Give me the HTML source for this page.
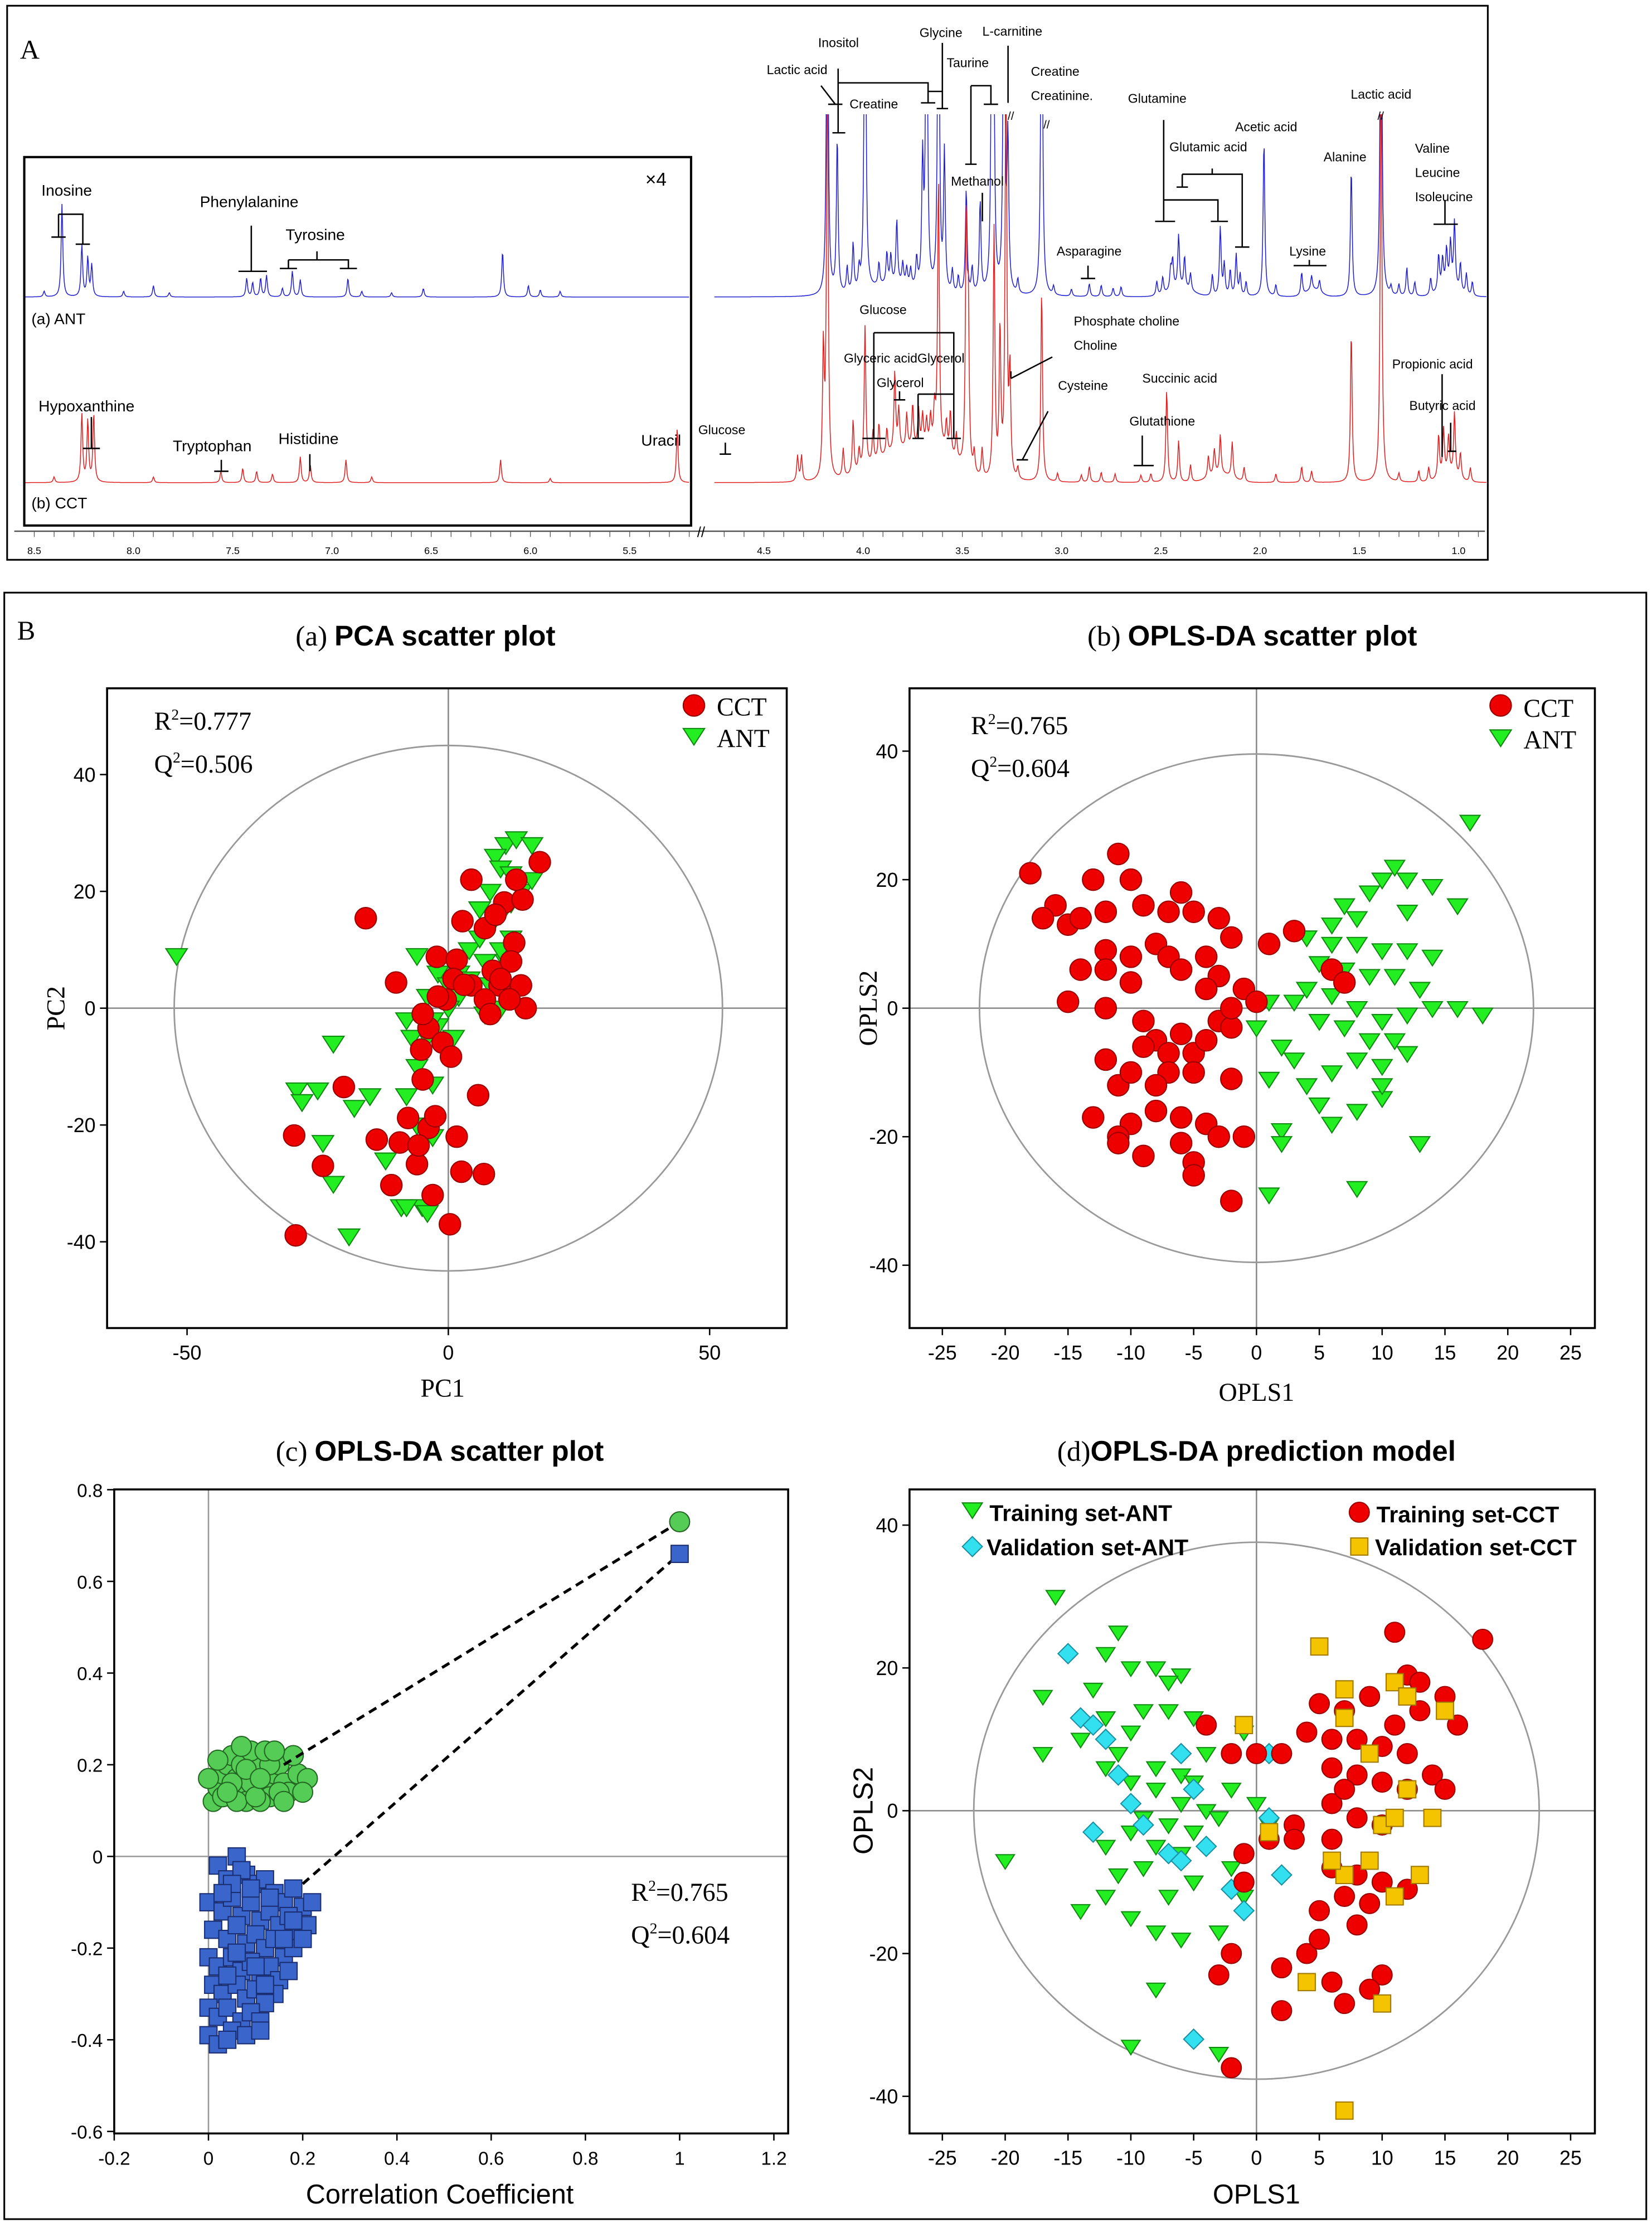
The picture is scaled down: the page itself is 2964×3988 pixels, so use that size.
<!DOCTYPE html>
<html><head><meta charset="utf-8"><style>
html,body{margin:0;padding:0;background:#fff;}
svg{display:block;}
.ser{font-family:"Liberation Serif",serif;}
.san{font-family:"Liberation Sans","DejaVu Sans",sans-serif;}
</style></head><body>
<svg id="fig" xmlns="http://www.w3.org/2000/svg" width="2964" height="3988" viewBox="0 0 1157 1556.7">
<rect x="0" y="0" width="1157" height="1557" fill="#fff"/>
<defs>
<clipPath id="clipA"><rect x="6" y="80" width="1035" height="300"/></clipPath>
</defs>
<g id="panelA"></g>
<g id="panelB"></g>
</svg>
<script>
// ---------- Panel A spectra data: [ppm, peak height (px units)] ----------
const blueRight=[[4.18,300],[4.13,110],[3.99,300],[4.05,34],[3.83,45],[3.70,87],[3.68,300],[3.62,300],[3.59,97],[3.48,74],[3.41,65],[3.35,300],[3.34,97],[3.29,300],[3.27,105],[3.10,300],[2.86,9],[2.41,37],[2.20,48],[2.12,29],[1.98,110],[1.79,16],[1.54,90],[1.39,300],[1.26,20],[1.02,46],[1.10,25],[0.96,15],[3.86,20],[3.78,12],[2.45,15],[2.15,18],[1.06,25],[1.08,20],[4.08,18],[4.02,14],[3.92,16],[3.88,22],[3.80,15],[3.76,12],[3.73,20],[3.55,16],[3.52,12],[3.45,18],[3.22,10],[3.04,6],[2.95,5],[2.80,8],[2.74,6],[2.70,7],[2.52,10],[2.49,12],[2.44,20],[2.38,22],[2.35,12],[2.24,15],[2.18,22],[2.10,15],[2.07,10],[1.92,8],[1.74,10],[1.70,8],[1.34,6],[1.30,8],[1.22,10],[1.14,12],[1.04,30],[0.99,20],[0.93,10]];
const redRight=[[4.18,300],[4.20,89],[3.99,100],[3.84,55],[4.05,38],[3.62,189],[3.48,173],[3.47,108],[3.34,175],[3.31,103],[3.28,300],[3.26,72],[3.10,135],[2.86,11],[2.47,65],[2.41,29],[2.20,27],[2.14,25],[1.79,11],[1.54,106],[1.39,300],[1.10,30],[1.02,44],[1.075,32],[4.31,18],[4.33,18],[3.92,25],[3.75,30],[3.70,22],[3.56,30],[3.66,20],[4.10,20],[4.02,15],[3.95,22],[3.88,18],[3.82,28],[3.78,24],[3.72,26],[3.68,18],[3.64,25],[3.58,20],[3.53,18],[3.44,15],[3.40,20],[3.22,8],[3.02,6],[2.90,5],[2.80,7],[2.73,6],[2.60,5],[2.55,6],[2.35,12],[2.26,15],[2.23,18],[2.08,10],[1.92,6],[1.74,8],[1.30,6],[1.20,8],[1.15,10],[1.05,26],[0.99,18],[0.94,10]];
const redHumps=[[3.80,22,0.2],[3.60,14,0.12],[2.20,6,0.08],[1.05,6,0.06]];
const blueHumps=[[3.85,8,0.15],[2.40,6,0.08],[1.05,8,0.06],[1.73,5,0.05]];
const blueLeft=[[8.36,65],[8.26,36],[8.23,27],[8.21,22],[7.43,13],[7.36,13],[7.20,18],[6.92,13],[6.54,6],[6.14,32],[6.01,8],[7.90,8],[7.40,10],[7.33,15],[7.16,12],[8.45,4],[8.05,4],[7.82,3],[7.25,6],[6.85,4],[6.70,3],[5.95,5],[5.85,4]];
const redLeft=[[8.26,48],[8.23,43],[8.20,48],[6.15,16],[5.26,38],[7.16,18],[6.93,16],[7.56,8],[7.11,13],[7.45,10],[7.38,8],[8.40,4],[7.90,4],[7.30,6],[6.80,4],[5.90,3]];
const ppmTicksLeft=[8.5,8.0,7.5,7.0,6.5,6.0,5.5];
const ppmTicksRight=[4.5,4.0,3.5,3.0,2.5,2.0,1.5,1.0];

// ---------- Panel B(a) PCA ----------
const pcaCCT=[[-15.8,15.4],[17.5,25],[4.4,22],[-10,4.4],[-2.2,8.8],[1.6,8.3],[7,13.7],[12.6,11.2],[13.9,3.9],[14.8,0],[9.8,3.9],[4.4,3.9],[-3.8,-3.4],[-1.1,-5.9],[0.5,-8.3],[-4.9,-12.2],[-7.7,-18.8],[-3.8,-20.5],[-9.3,-23],[-13.7,-22.5],[-20,-13.5],[-29.5,-21.8],[-24,-27],[-29.2,-38.9],[-10.9,-30.3],[-6,-26.7],[-3,-32],[0.3,-37],[1.6,-22],[5.7,-14.9],[2.5,-28],[6.8,-28.4],[-5.7,-23.5],[-2.5,-18.5],[2.7,14.9],[10.7,18.1],[14.2,18.6],[8.5,6.4],[11.7,1.5],[7,1.5],[-0.5,1.5],[-4.9,-1],[-5.2,-7.1],[12,8],[10,5],[13,22],[9,16],[8,-1],[1,5],[3,4],[-2,2]];
const pcaANT=[[-52,9],[-22,-6],[-25,-14],[-29,-14],[-28,-16],[-24,-23],[-18,-17],[-22,-30],[-19,-39],[-12,-26],[-9,-34],[-5,-34],[-8,-34],[-4,-35],[-6,-20],[-15,-15],[-8,-15],[-3,-13],[-6,-10],[-8,-2],[-4,-5],[-2,-3],[-4,2],[-6,9],[-2,6],[0,4],[2,6],[4,10],[6,12],[8,14],[10,16],[12,18],[14,20],[16,22],[11,28],[13,29],[16,28],[9,26],[10,24],[12,23],[8,20],[6,17],[7,8],[9,6],[11,8],[12,12],[10,10],[8,4],[10,0],[7,-1],[4,5],[2,2],[0,0],[-3,-2],[1,-5],[-7,-5],[-6,-24],[-3,-22]];
const pcaXTicks=[-50,0,50];
const pcaYTicks=[40,20,0,-20,-40];

// ---------- Panel B(b) OPLS-DA ----------
const oplsCCT=[[-18,21],[-16,16],[-15,13],[-13,20],[-12,15],[-11,24],[-10,20],[-9,16],[-7,15],[-6,18],[-5,15],[-3,14],[-2,11],[-14,14],[-17,14],[-12,9],[-10,8],[-8,10],[-7,8],[-6,6],[-4,8],[-3,5],[-1,3],[1,10],[3,12],[6,6],[7,4],[-15,1],[-12,0],[-10,4],[-9,-2],[-8,-5],[-7,-7],[-6,-4],[-5,-7],[-4,-5],[-3,-2],[-2,-3],[0,1],[-12,-8],[-11,-12],[-10,-10],[-9,-6],[-7,-10],[-5,-10],[-2,-11],[-13,-17],[-10,-18],[-8,-16],[-6,-17],[-4,-18],[-3,-20],[-11,-20],[-11,-21],[-9,-23],[-5,-24],[-5,-26],[-2,-30],[-1,-20],[-6,-21],[-8,-12],[-12,6],[-14,6],[-4,3],[-2,0]];
const oplsANT=[[17,29],[11,22],[12,20],[14,19],[10,20],[9,18],[7,16],[6,13],[8,14],[12,15],[16,16],[4,11],[6,10],[8,10],[10,9],[12,9],[14,8],[5,7],[7,6],[9,5],[11,5],[13,3],[16,0],[18,-1],[4,3],[6,2],[8,0],[10,-2],[12,-1],[14,0],[1,1],[3,1],[5,-2],[7,-3],[9,-5],[11,-5],[12,-7],[2,-6],[3,-8],[1,-11],[6,-10],[8,-8],[10,-9],[5,-15],[6,-18],[8,-16],[10,-14],[13,-21],[2,-19],[2,-21],[1,-29],[8,-28],[10,-12],[4,-12],[0,-3]];
const oplsXTicks=[-25,-20,-15,-10,-5,0,5,10,15,20,25];
const oplsYTicks=[40,20,0,-20,-40];

// ---------- Panel B(c) permutation ----------
const permR2=[[1,0.73],[0.01,0.12],[0.02,0.15],[0.03,0.18],[0.04,0.2],[0.05,0.22],[0.06,0.17],[0.07,0.14],[0.08,0.12],[0.09,0.16],[0.1,0.19],[0.11,0.21],[0.12,0.15],[0.13,0.13],[0.14,0.18],[0.15,0.2],[0.16,0.16],[0.17,0.14],[0.19,0.18],[0.21,0.17],[0.03,0.13],[0.05,0.16],[0.07,0.2],[0.09,0.23],[0.11,0.12],[0.13,0.2],[0.15,0.14],[0.12,0.23],[0.08,0.19],[0.06,0.12],[0.02,0.21],[0.18,0.22],[0.1,0.13],[0.04,0.14],[0.14,0.23],[0.16,0.12],[0.0,0.17],[0.07,0.24],[0.2,0.14],[0.11,0.17]];
const permQ2=[[1,0.66],[0.02,-0.02],[0.04,-0.05],[0.06,0.0],[0.08,-0.04],[0.1,-0.06],[0.12,-0.05],[0.14,-0.08],[0.16,-0.1],[0.18,-0.07],[0.2,-0.11],[0.22,-0.1],[0.0,-0.1],[0.03,-0.12],[0.05,-0.09],[0.07,-0.13],[0.09,-0.1],[0.11,-0.14],[0.13,-0.12],[0.15,-0.15],[0.17,-0.13],[0.19,-0.17],[0.21,-0.15],[0.01,-0.16],[0.04,-0.18],[0.06,-0.15],[0.08,-0.19],[0.1,-0.17],[0.12,-0.2],[0.14,-0.18],[0.16,-0.22],[0.18,-0.2],[0.2,-0.18],[0.0,-0.22],[0.02,-0.24],[0.05,-0.22],[0.07,-0.25],[0.09,-0.23],[0.11,-0.26],[0.13,-0.24],[0.15,-0.27],[0.17,-0.25],[0.14,-0.3],[0.01,-0.28],[0.03,-0.3],[0.06,-0.28],[0.08,-0.31],[0.1,-0.29],[0.12,-0.32],[0.0,-0.33],[0.02,-0.35],[0.04,-0.33],[0.07,-0.36],[0.09,-0.34],[0.11,-0.36],[0.0,-0.39],[0.02,-0.41],[0.05,-0.38],[0.08,-0.39],[0.04,-0.4],[0.07,-0.03],[0.05,-0.06],[0.13,-0.09],[0.03,-0.08],[0.09,-0.07],[0.16,-0.18],[0.18,-0.14],[0.06,-0.21],[0.1,-0.24],[0.12,-0.28],[0.04,-0.26],[0.11,-0.38]];
const permXTicks=[-0.2,0,0.2,0.4,0.6,0.8,1,1.2];
const permYTicks=[0.8,0.6,0.4,0.2,0,-0.2,-0.4,-0.6];

// ---------- Panel B(d) prediction ----------
const trainANT=[[-16,30],[-11,25],[-12,22],[-10,20],[-8,20],[-6,19],[-7,18],[-17,16],[-13,17],[-9,14],[-7,14],[-5,13],[-4,8],[-12,13],[-10,11],[-14,10],[-11,8],[-8,6],[-6,5],[-5,4],[-17,8],[-12,6],[-10,4],[-8,3],[-6,1],[-4,0],[-9,-1],[-7,-2],[-10,-3],[-12,-5],[-8,-5],[-6,-6],[-9,-8],[-11,-9],[-5,-10],[-7,-12],[-12,-12],[-14,-14],[-10,-15],[-8,-17],[-6,-18],[-20,-7],[-2,-8],[-1,-12],[-3,-17],[-8,-25],[-10,-33],[-3,-34],[-1,11],[-2,3],[-5,-3],[0,1],[1,-2],[-3,-1]];
const validANT=[[-15,22],[-14,13],[-13,12],[-12,10],[-11,5],[-13,-3],[-6,8],[-5,3],[-9,-2],[-7,-6],[-6,-7],[-2,-11],[-1,-14],[1,8],[1,-1],[2,-9],[-5,-32],[-4,-5],[-10,1]];
const trainCCT=[[11,25],[18,24],[12,19],[13,18],[15,16],[16,12],[9,16],[7,14],[5,15],[4,11],[6,10],[8,10],[10,9],[12,8],[14,5],[2,8],[0,8],[-2,8],[-4,12],[6,6],[8,5],[10,4],[12,3],[15,3],[6,1],[8,-1],[10,-2],[6,-4],[3,-2],[1,-4],[-1,-6],[6,-8],[8,-9],[10,-10],[7,-12],[9,-13],[12,-11],[5,-14],[8,-16],[-2,-20],[2,-22],[4,-20],[6,-24],[7,-27],[10,-23],[-3,-23],[-2,-36],[2,-28],[9,-25],[5,-18],[-1,-10],[3,-4],[7,3],[11,12],[13,14]];
const validCCT=[[5,23],[7,17],[7,13],[9,8],[-1,12],[11,18],[12,16],[15,14],[12,3],[10,-2],[9,-7],[11,-1],[14,-1],[13,-9],[11,-12],[7,-9],[4,-24],[10,-27],[7,-42],[1,-3],[6,-7]];
const predXTicks=[-25,-20,-15,-10,-5,0,5,10,15,20,25];
const predYTicks=[40,20,0,-20,-40];

const NS='http://www.w3.org/2000/svg';
function mk(tag,attrs,parent){const e=document.createElementNS(NS,tag);for(const k in attrs)e.setAttribute(k,attrs[k]);parent.appendChild(e);return e;}
function txt(s,x,y,size,cls,parent,anchor,weight){const t=mk('text',{x:x,y:y,'font-size':size,'class':cls,'text-anchor':anchor||'start','font-weight':weight||'normal',fill:'#000'},parent);t.textContent=s;return t;}

const A=document.getElementById('panelA');
const B=document.getElementById('panelB');

// ---- Panel A ----
let el;
el=mk('rect',{x:5,y:4,width:1037,height:388,fill:'none',stroke:'#000','stroke-width':1.2},A);


el=txt('A',14,41,19,'ser',A);



const xL=p=>24+(8.5-p)*139, xR=p=>535+(4.5-p)*139;
function spectrum(peaks,humps,base,p0,p1,xf,color,name){
  let d='';
  for(let x=xf(p0);x<=xf(p1);x+=0.4){
    const p=(xf===xL)?8.5-(x-24)/139:4.5-(x-535)/139;
    let y=0;
    for(const pk of peaks){const w=0.005;const u=(p-pk[0])/w;y+=pk[1]/(1+u*u);}
    for(const h of humps){const u=(p-h[0])/h[2];y+=h[1]*Math.exp(-u*u);}
    d+=(d?'L':'M')+x.toFixed(1)+' '+(base-y).toFixed(1);
  }
  const e=mk('path',{d:d,fill:'none',stroke:color,'stroke-width':0.6,'clip-path':'url(#clipA)'},A);
  
  
}
spectrum(blueLeft,[],208,8.55,5.2,xL,'#2020d0','ant-spectrum-aromatic');
spectrum(redLeft,[],338,8.55,5.2,xL,'#e02020','cct-spectrum-aromatic');
spectrum(blueRight,blueHumps,208,4.75,0.85,xR,'#2020d0','ant-spectrum-aliphatic');
spectrum(redRight,redHumps,338,4.75,0.85,xR,'#e02020','cct-spectrum-aliphatic');

el=mk('rect',{x:17,y:110,width:467,height:258,fill:'none',stroke:'#000','stroke-width':1.6},A);



// ppm axis
el=mk('line',{x1:10,y1:372,x2:1040,y2:372,stroke:'#555','stroke-width':1},A);


for(let p=8.5;p>=5.2;p-=0.1){const x=xL(p);el=mk('line',{x1:x,y1:372,x2:x,y2:376,stroke:'#555','stroke-width':0.5},A);}
for(let p=4.7;p>=0.9;p-=0.1){const x=xR(p);el=mk('line',{x1:x,y1:372,x2:x,y2:376,stroke:'#555','stroke-width':0.5},A);}
ppmTicksLeft.forEach(p=>{el=txt(p.toFixed(1),xL(p),388,7,'san',A,'middle');});
ppmTicksRight.forEach(p=>{el=txt(p.toFixed(1),xR(p),388,7,'san',A,'middle');});
el=txt('//',491,376,10,'san',A,'middle');


el=txt('//',708,84,8,'san',A,'middle');


el=txt('//',733,90,8,'san',A,'middle');


el=txt('//',967,84,8,'san',A,'middle');



const labelsA=[['Inosine',29,137,11],['Phenylalanine',140,145,11],['Tyrosine',200,168,11],['×4',452,130,13],['(a)  ANT',22,227,11],['Hypoxanthine',27,288,11],['Tryptophan',121,316,11],['Histidine',195,311,11],['Uracil',449,312,11],['(b)  CCT',22,356,11],['Inositol',573,33,9],['Lactic acid',537,52,9],['Creatine',595,76,9],['Glycine',644,26,9],['L-carnitine',688,25,9],['Taurine',663,47,9],['Creatine',722,53,9],['Creatinine.',722,70,9],['Methanol',666,130,9],['Glutamine',790,72,9],['Acetic acid',865,92,9],['Glutamic acid',819,106,9],['Lactic acid',946,69,9],['Alanine',927,113,9],['Valine',991,107,9],['Leucine',991,124,9],['Isoleucine',991,141,9],['Asparagine',740,179,9],['Lysine',903,179,9],['Glucose',602,220,9],['Phosphate choline',752,228,9],['Choline',752,245,9],['Glyceric acidGlycerol',591,254,9],['Glycerol',614,271,9],['Cysteine',741,273,9],['Succinic acid',800,268,9],['Glutathione',791,298,9],['Propionic acid',975,258,9],['Butyric acid',987,287,9],['Glucose',489,304,9]];
labelsA.forEach(l=>{el=txt(l[0],l[1],l[2],l[3],'san',A);});
const brk=[
'M41 150L41 166M36 166L46 166M41 150L58 150L58 171M53 171L63 171',
'M176 158L176 190M167 190L187 190',
'M202 182L202 188M196 188L208 188M202 182L244 182L244 188M238 188L250 188M222 176L222 182',
'M64 292L64 314M58 314L70 314','M155 322L155 330M150 330L160 330','M217 318L217 330','M508 310L508 318M504 318L512 318',
'M575 60L585 73M580 73L590 73M587 48L587 93M583 93L592 93M587 58L650 58L650 72M645 72L655 72M650 64L660 64L660 76M656 76L664 76M660 30L660 64',
'M680 60L680 115M676 115L684 115M680 60L694 60L694 73M689 73L699 73M706 32L706 72',
'M688 135L688 155',
'M815 84L815 155M809 155L823 155M815 140L853 140L853 155M848 155L860 155M828 122L828 131M824 131L832 131M828 122L870 122L870 173M865 173L875 173M849 118L849 122',
'M1012 140L1012 157M1004 157L1021 157','M906 186L929 186M917 182L917 186','M762 186L762 195M757 195L767 195',
'M612 233L612 307M604 307L620 307M612 233L668 233L668 307M663 307L673 307M643 276L643 307M639 307L647 307M643 276L668 276M630 274L630 280M626 280L634 280',
'M708 265L737 250M708 265L708 260','M716 322L734 288M712 322L720 322','M800 305L800 326M794 326L808 326','M1010 262L1010 320M1016 296L1016 316M1014 316L1020 316'];
brk.forEach(d=>{el=mk('path',{d:d,fill:'none',stroke:'#000','stroke-width':1},A);});

// ---- Panel B ----
el=mk('rect',{x:3,y:415,width:1150,height:1139,fill:'none',stroke:'#000','stroke-width':1.2},B);


el=txt('B',12,448,19,'ser',B);



function title(cx,y,pre,main,name){
  const t=mk('text',{x:cx,y:y,'text-anchor':'middle','font-size':20,fill:'#000'},B);
  
  
  const s1=mk('tspan',{'class':'ser'},t);s1.textContent=pre;
  const s2=mk('tspan',{'class':'san','font-weight':'bold'},t);s2.textContent=main;
}
title(298,452,'(a)  ','PCA scatter plot','pca-title');
title(877,452,'(b)  ','OPLS-DA scatter plot','opls-title');
title(308,1023,'(c)  ','OPLS-DA scatter plot','permutation-title');
title(880,1023,'(d)','OPLS-DA prediction model','prediction-title');

function frame(x0,y0,x1,y1,name){el=mk('rect',{x:x0,y:y0,width:x1-x0,height:y1-y0,fill:'none',stroke:'#000','stroke-width':1.4},B);}
function gline(x1,y1,x2,y2,name,col){el=mk('line',{x1:x1,y1:y1,x2:x2,y2:y2,stroke:col||'#888','stroke-width':1},B);}
function ell(cx,cy,rx,ry,name){el=mk('ellipse',{cx:cx,cy:cy,rx:rx,ry:ry,fill:'none',stroke:'#999','stroke-width':1.1},B);}
function circ(x,y,r,fill,stroke,name){el=mk('circle',{cx:x,cy:y,r:r,fill:fill,stroke:stroke,'stroke-width':0.8},B);}
function tri(x,y,s,name){el=mk('path',{d:`M${x-s} ${y-s*0.65}L${x+s} ${y-s*0.65}L${x} ${y+s*0.9}Z`,fill:'#22ee22',stroke:'#118811','stroke-width':0.8},B);}
function sq(x,y,s,fill,stroke,name){el=mk('rect',{x:x-s,y:y-s,width:2*s,height:2*s,fill:fill,stroke:stroke,'stroke-width':0.8},B);}
function dia(x,y,s,name){el=mk('path',{d:`M${x} ${y-s}L${x+s} ${y}L${x} ${y+s}L${x-s} ${y}Z`,fill:'#33e0f0',stroke:'#1a8fa0','stroke-width':0.8},B);}
function ticksX(vals,fx,y,fmt,size,cls,name){vals.forEach(v=>{gline(fx(v),y,fx(v),y+5,'x-tick','#000');el=txt(fmt(v),fx(v),y+22,size,cls,B,'middle');});}
function ticksY(vals,fy,x,fmt,size,cls,name){vals.forEach(v=>{gline(x-5,fy(v),x,fy(v),'y-tick','#000');el=txt(fmt(v),x-8,fy(v)+5,size,cls,B,'end');});}

// (a) PCA
const ax=v=>314+v*3.66, ay=v=>706-v*4.09;
gline(75,ay(0),551,ay(0),'pca-zero-h');gline(ax(0),482,ax(0),930,'pca-zero-v');
ell(ax(0),ay(0),192,184,'pca-hotelling-ellipse');
pcaANT.forEach(p=>tri(ax(p[0]),ay(p[1]),7.5,'pca-ant-point'));
pcaCCT.forEach(p=>circ(ax(p[0]),ay(p[1]),7.5,'#ee0000','#990000','pca-cct-point'));
frame(75,482,551,930,'pca-plot-frame');
ticksY(pcaYTicks,ay,75,v=>String(v),14,'san','pca-y-tick-label');
ticksX(pcaXTicks,ax,930,v=>String(v),14,'san','pca-x-tick-label');
el=txt('PC1',310,978,18,'ser',B,'middle');
el=txt('PC2',0,0,18,'ser',B,'middle');el.setAttribute('transform','translate(45 706) rotate(-90)');
function rq(x,y,r,q,name,size){const t=mk('text',{x:x,y:y,'font-size':size,'class':'ser'},B);t.innerHTML='R<tspan dy="-7" font-size="'+(size*0.6)+'">2</tspan><tspan dy="7">='+r+'</tspan>';
 const t2=mk('text',{x:x,y:y+30,'font-size':size,'class':'ser'},B);t2.innerHTML='Q<tspan dy="-7" font-size="'+(size*0.6)+'">2</tspan><tspan dy="7">='+q+'</tspan>';}
rq(108,511,'0.777','0.506','pca-model-stats',18);
circ(486,494,7.5,'#ee0000','#990000','pca-legend-cct-marker');tri(486,515,7.5,'pca-legend-ant-marker');
el=txt('CCT',502,501,18,'ser',B);
el=txt('ANT',502,523,18,'ser',B);

// (b) OPLS-DA
const bx=v=>880+v*8.8, by=v=>706-v*4.5;
gline(637,by(0),1117,by(0),'opls-zero-h');gline(bx(0),482,bx(0),930,'opls-zero-v');
ell(880,706,194,178,'opls-hotelling-ellipse');
oplsANT.forEach(p=>tri(bx(p[0]),by(p[1]),7,'opls-ant-point'));
oplsCCT.forEach(p=>circ(bx(p[0]),by(p[1]),7.5,'#ee0000','#990000','opls-cct-point'));
frame(637,482,1117,930,'opls-plot-frame');
ticksY(oplsYTicks,by,637,v=>String(v),14,'san','opls-y-tick-label');
ticksX(oplsXTicks,bx,930,v=>String(v),14,'san','opls-x-tick-label');
el=txt('OPLS1',880,981,18,'ser',B,'middle');
el=txt('OPLS2',0,0,18,'ser',B,'middle');el.setAttribute('transform','translate(614 706) rotate(-90)');
rq(680,514,'0.765','0.604','opls-model-stats',18);
circ(1051,494,7.5,'#ee0000','#990000','opls-legend-cct-marker');tri(1051,516,7.5,'opls-legend-ant-marker');
el=txt('CCT',1067,502,18,'ser',B);
el=txt('ANT',1067,524,18,'ser',B);

// (c) permutation
const cx=v=>146+v*330, cy=v=>1300-v*321;
gline(80,cy(0),552,cy(0),'perm-zero-h','#999');gline(cx(0),1043,cx(0),1494,'perm-zero-v','#999');
permR2.forEach((p,i)=>{if(i>0)circ(cx(p[0]),cy(p[1]),7,'#55cc55','#226622','perm-r2-point');});
permQ2.forEach((p,i)=>{if(i>0)sq(cx(p[0]),cy(p[1]),6,'#3a66cc','#1a2d70','perm-q2-point');});
el=mk('line',{x1:cx(0.16),y1:cy(0.2),x2:cx(permR2[0][0]),y2:cy(permR2[0][1]),stroke:'#000','stroke-width':2,'stroke-dasharray':'6 4'},B);


el=mk('line',{x1:cx(0.2),y1:cy(-0.06),x2:cx(permQ2[0][0]),y2:cy(permQ2[0][1]),stroke:'#000','stroke-width':2,'stroke-dasharray':'6 4'},B);


circ(cx(permR2[0][0]),cy(permR2[0][1]),7,'#55cc55','#226622','perm-r2-original');
sq(cx(permQ2[0][0]),cy(permQ2[0][1]),6,'#3a66cc','#1a2d70','perm-q2-original');
frame(80,1043,552,1494,'perm-plot-frame');
ticksY(permYTicks,cy,80,v=>String(Math.round(v*10)/10),13,'san','perm-y-tick-label');
ticksX(permXTicks,cx,1494,v=>String(Math.round(v*10)/10),13,'san','perm-x-tick-label');
el=txt('Correlation Coefficient',308,1543,19,'san',B,'middle');
rq(442,1331,'0.765','0.604','perm-model-stats',18);

// (d) prediction
const dx=v=>880+v*8.8, dy=v=>1268-v*5;
gline(637,dy(0),1117,dy(0),'pred-zero-h');gline(dx(0),1043,dx(0),1494,'pred-zero-v');
ell(880,1268,198,188,'pred-hotelling-ellipse');
trainANT.forEach(p=>tri(dx(p[0]),dy(p[1]),6.5,'train-ant-point'));
validANT.forEach(p=>dia(dx(p[0]),dy(p[1]),7,'valid-ant-point'));
trainCCT.forEach(p=>circ(dx(p[0]),dy(p[1]),7,'#ee0000','#990000','train-cct-point'));
validCCT.forEach(p=>sq(dx(p[0]),dy(p[1]),6,'#f5c400','#a07800','valid-cct-point'));
frame(637,1043,1117,1494,'pred-plot-frame');
ticksY(predYTicks,dy,637,v=>String(v),14,'san','pred-y-tick-label');
ticksX(predXTicks,dx,1494,v=>String(v),14,'san','pred-x-tick-label');
el=txt('OPLS1',880,1543,19,'san',B,'middle');
el=txt('OPLS2',0,0,19,'san',B,'middle');el.setAttribute('transform','translate(611 1268) rotate(-90)');
tri(681,1057,7,'legend-train-ant-marker');dia(681,1083,7,'legend-valid-ant-marker');
circ(952,1059,7,'#ee0000','#990000','legend-train-cct-marker');sq(952,1083,6,'#f5c400','#a07800','legend-valid-cct-marker');
el=txt('Training set-ANT',693,1065,16,'san',B,'start','bold');
el=txt('Validation set-ANT',691,1089,16,'san',B,'start','bold');
el=txt('Training set-CCT',964,1066,16,'san',B,'start','bold');
el=txt('Validation set-CCT',963,1089,16,'san',B,'start','bold');
</script>
</body></html>
